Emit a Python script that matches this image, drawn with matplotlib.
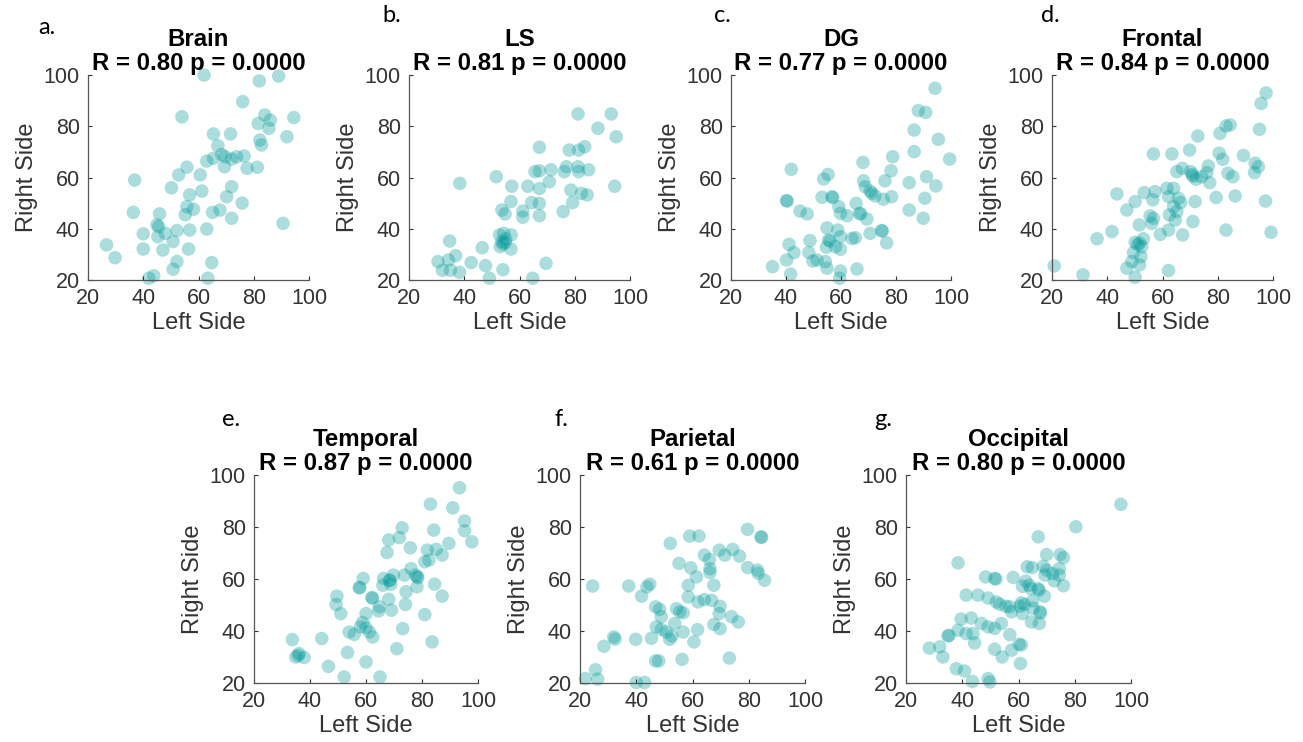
import matplotlib.pyplot as plt
import numpy as np

# left / right side values for each region
brain_left = [62, 82, 89, 76, 54, 84, 94.5, 81.6, 86, 85.5, 92, 65.4, 71.6, 82.2, 82.8, 67, 68.4, 63, 65.4, 69.6,
              72, 73.8, 76.5, 69.4, 77.6, 81.3, 55.8, 52.8, 60.6, 36.9, 50.2, 72, 56.8, 61.2, 70.2, 55.8, 58.2, 75.8, 36.4, 45.9,
              65.1, 67.8, 72, 55.2, 45, 45.6, 52.2, 56.8, 63, 90.6, 48, 40, 45.3, 50.8, 26.7, 40, 47.1, 56.4, 29.8, 52.2,
              64.8, 50.8, 42, 43.8, 63.4]
brain_right = [100, 97.7, 99.6, 89.6, 83.7, 84.4, 83.4, 81.1, 82.4, 79.2, 75.9, 77, 77, 74.6, 72.7, 72.4, 69, 66.4, 67.5, 68.1,
               67.2, 68.1, 68.4, 64.2, 63.6, 64, 64, 61, 61, 59, 56, 56.4, 53.2, 54.7, 52.5, 48.6, 47.6, 50, 46.4, 45.8,
               46.4, 47.3, 44.1, 45.5, 41.5, 40.8, 39.3, 39.5, 39.9, 42.1, 38.2, 38, 36.9, 35, 33.7, 32.1, 31.7, 32.1, 28.7, 27.2,
               26.8, 24.2, 20.7, 21.6, 20.7]

ls_left = [81.2, 93.2, 88.4, 95, 67.2, 78, 81.4, 83.6, 65.6, 67.2, 71.4, 76.2, 77, 81.2, 81.4, 85, 51.6, 38.4, 57.2, 63,
           67.2, 70.8, 94.5, 78.6, 82.4, 84.5, 64.4, 67.2, 56.9, 79.2, 75.8, 53.6, 54.8, 61.2, 61.2, 67.2, 54.3, 57, 52.8, 53.6,
           54.8, 53, 56.9, 34.7, 46.5, 36.9, 30.5, 34.3, 42.5, 47.7, 69.6, 32.1, 35, 38.3, 54, 49.1, 64.8, 54, 55]
ls_right = [84.8, 84.8, 79.2, 75.9, 71.8, 70.7, 70.7, 72, 62.3, 62.6, 63, 62.3, 64.2, 64.2, 62.3, 63, 60.3, 57.7, 56.6, 56.6,
            55.7, 58.3, 56.6, 55.1, 53.8, 53.2, 50.2, 49.9, 50.6, 50.2, 46.7, 47.3, 45.8, 46.9, 44.5, 45.1, 38.2, 37.6, 37.6, 35,
            34.6, 33, 32.1, 35.2, 32.6, 29.5, 27.2, 27.8, 26.8, 25.6, 26.5, 23.8, 23.8, 23, 24, 20.7, 20.7, 34, 36]

dg_left = [94.2, 88.1, 90.8, 86.6, 95.4, 99.5, 86.6, 41.9, 68, 78.8, 53.7, 55.3, 68.2, 78.2, 76, 84.8, 91.1, 94.5, 40.2, 40.4,
           45.1, 47.7, 53.1, 56.7, 57, 59.2, 59.8, 62.2, 65.5, 66.7, 67.2, 69.4, 68.8, 70.6, 71.2, 72.4, 75.4, 78.4, 84.8, 90.5,
           89.9, 54.9, 58.8, 55.5, 56, 59.8, 48.7, 41.1, 42.9, 54.7, 58, 59.8, 64, 65.2, 70.6, 74.8, 75, 76.6, 48.3, 49.8,
           51.3, 40.2, 35.1, 54.3, 54.9, 59.8, 65.8, 41.7, 59.5]
dg_right = [94.8, 86.1, 85.4, 78.5, 74.9, 67.2, 70.1, 63.2, 65.9, 68.1, 59.4, 61.2, 58.7, 62.6, 58.7, 58, 60.3, 56.7, 51, 50.8,
            46.9, 45.8, 52.3, 52.5, 52.2, 48.6, 46, 45.1, 49.9, 46, 45.8, 43.8, 56.4, 54.7, 53.8, 52.8, 51.5, 52.5, 47.3, 51.9,
            44.1, 40.3, 39.5, 35.6, 35.2, 36.9, 35.4, 33.9, 30.7, 32.8, 33, 32, 36.2, 36.5, 38.2, 39.3, 39.1, 34.5, 30.7, 27.4,
            27.8, 27.8, 25.2, 27.2, 24.6, 23.5, 24.3, 22.3, 20.7]

frontal_left = [97.5, 95.7, 95.1, 80.8, 83, 84.5, 72.8, 56.7, 63.4, 69.8, 80.5, 81.8, 89.3, 93.5, 94.7, 93.3, 83.7, 85.5, 76.6, 76,
                67.2, 65.2, 70.2, 70.8, 71, 74.2, 72.2, 77.1, 43.5, 50.1, 53.4, 57.3, 56.5, 61.6, 64, 62.2, 65.8, 66.6, 64, 65.2,
                62.5, 64.6, 71.8, 79.4, 86.3, 97.3, 47.1, 55.5, 56.7, 56.1, 51.6, 71, 41.7, 36.3, 62.2, 59.2, 67.3, 83, 99.3, 53.1,
                50.1, 51.7, 51, 52.5, 49.5, 52.2, 48.9, 51.7, 47.1, 62.2, 20.8, 31.2, 50.1]
frontal_right = [93, 88.9, 78.8, 77.2, 80.1, 80.5, 76.2, 69.2, 69.2, 70.7, 69.5, 67.1, 68.6, 65.6, 64.2, 61.9, 61.7, 60.3, 64.5, 61.9,
                 63.6, 62.3, 62.3, 61.2, 60.5, 60.3, 59.3, 58, 53.6, 50.6, 54.1, 54.5, 51.3, 55.8, 55.8, 52.5, 51.9, 50.2, 48.6, 46.7,
                 45.4, 43.4, 50.6, 52.2, 52.8, 50.8, 47.3, 45, 44.1, 42.1, 41.5, 42.8, 38.9, 36.1, 39.5, 37.8, 37.6, 39.5, 38.6, 36.1,
                 34.7, 34.4, 33.8, 33, 30.7, 29.1, 27.2, 25.9, 24.6, 23.7, 25.5, 22, 21.1]

temporal_left = [93.4, 83, 91, 95.2, 95.2, 97.8, 72.9, 84.2, 68.1, 71.9, 75.8, 89.6, 67.5, 81.9, 85.1, 87.2, 81, 82.5, 76.1, 73.7,
                 77.7, 78.3, 78.2, 84.5, 59, 57.6, 66.3, 68.4, 68.9, 69.8, 66, 49.6, 49.3, 51, 62.1, 64.8, 64.5, 68.1, 69.1, 74.1,
                 74.3, 87.2, 81, 60, 58.8, 58, 60, 61.2, 62.4, 54, 55.8, 44.2, 33.7, 73.1, 83.6, 34.9, 36.1, 37.9, 71, 53.4,
                 60, 46.6, 52.2, 65, 57.8, 62.3, 35.8, 68.5, 78.5]
temporal_right = [95.1, 88.8, 87.4, 82.3, 78.6, 74.3, 79.7, 78.8, 75, 75.9, 72, 73.7, 70.2, 71.1, 71.4, 69.2, 66.6, 67.3, 64, 61.5,
                  61.5, 60.9, 57, 58, 60.2, 56.6, 60.2, 59.5, 58, 61.5, 57.6, 53.4, 50.2, 46.7, 52.9, 49.3, 47.7, 52.2, 48, 50.2,
                  55.1, 53.4, 46.3, 46.7, 43.3, 41.6, 41.3, 39.6, 37.7, 39.6, 38.7, 37.1, 36.7, 40.9, 35.8, 30, 31.3, 29.8, 33.2, 31.7,
                  28.1, 26.4, 22.3, 22.3, 56.8, 52.6, 30.6, 59.5, 60.5]

parietal_left = [79.6, 84.3, 84.6, 59, 62.3, 52.1, 69.5, 74.3, 71.5, 76.7, 64.2, 66, 55.2, 59.4, 66.2, 66.2, 79.6, 83.1, 83.4, 85.6,
                 24.5, 37.3, 43.8, 44.8, 41.9, 58.5, 61.4, 67.6, 58.5, 62, 64.2, 66.8, 69.8, 69.5, 46.9, 48.3, 48.9, 54.3, 55.5, 56.7,
                 73.9, 76.3, 67.6, 69.8, 47.1, 48.9, 50.7, 53.7, 52.7, 56.7, 61.8, 32, 32.5, 28.5, 39.8, 45.4, 51.9, 60.5, 46.9, 48,
                 56.3, 73.1, 25.5, 21.9, 26.3, 40, 43]
parietal_right = [79.1, 76.2, 76, 76.5, 76.5, 73.7, 71.1, 71.4, 69.2, 68.8, 69.2, 67.5, 66, 64.3, 64, 62.5, 64.4, 63.4, 62.2, 59.5,
                  57.3, 57.3, 57, 58, 53.4, 57.6, 60.8, 57.6, 53.1, 51.2, 52.1, 51.8, 49.5, 46.7, 49.3, 48.3, 45.5, 48.6, 47.4, 47,
                  45.5, 43.5, 42.5, 40.9, 41.6, 40.6, 39.6, 42.9, 38.1, 39.6, 40.5, 37.7, 36.9, 34.1, 36.8, 37.2, 36.8, 35.8, 28.5, 28.5,
                  29.1, 29.6, 25.1, 21.7, 21.5, 20.2, 20.2]

occipital_left = [96.4, 80.4, 67, 38.5, 70, 74.8, 76, 63.1, 64.9, 68.8, 70, 69.4, 72.1, 74.5, 74.5, 48.3, 51.5, 52, 58.1, 62.6,
                  61.4, 63.8, 64.4, 67, 67.3, 69.2, 76, 72.7, 41.4, 45.6, 49.2, 52.1, 53.3, 55.5, 56.9, 57.5, 60.5, 61, 62.1, 65,
                  65.2, 67.6, 67.9, 61.4, 64.6, 67.4, 39.6, 43.2, 46.8, 49.2, 51.5, 53.9, 34.9, 38.5, 41.4, 43.8, 44.4, 56.9, 28.3, 32,
                  33.1, 51.5, 54.2, 57.5, 60.2, 61, 60.7, 37.9, 40.8, 43.6, 49.2, 49.8, 35.3]
occipital_right = [88.7, 80.1, 76.2, 66.2, 69.4, 69.4, 68.2, 64.7, 64.4, 64.9, 63.4, 61.5, 62.1, 64, 61.5, 60.8, 60.2, 60, 60.6, 59.2,
                   57.2, 57.6, 56.3, 56.3, 55.7, 53.4, 57.4, 59.3, 53.8, 53.8, 52.7, 51.2, 50.3, 49.5, 49.3, 47.4, 49.5, 50.8, 50.2, 51.6,
                   48.8, 47.4, 46.9, 46.7, 43.5, 42.9, 44.6, 45, 42.9, 41.6, 41, 42.9, 38.1, 40.3, 39, 39, 35.4, 38.6, 33.4, 33.9,
                   30, 33, 30, 32.6, 34.9, 34.6, 27.5, 25.5, 24.6, 20.6, 21.7, 20.4, 38.3]

regions = ['Brain', 'LS', 'DG', 'Frontal', 'Temporal', 'Parietal', 'Occipital']
r_values = [0.80, 0.81, 0.77, 0.84, 0.87, 0.61, 0.80]
p_values = [0.0, 0.0, 0.0, 0.0, 0.0, 0.0, 0.0]
letters = ['a.', 'b.', 'c.', 'd.', 'e.', 'f.', 'g.']
lefts = [brain_left, ls_left, dg_left, frontal_left, temporal_left, parietal_left, occipital_left]
rights = [brain_right, ls_right, dg_right, frontal_right, temporal_right, parietal_right, occipital_right]
ticks = [20, 40, 60, 80, 100]

plt.rcParams['font.family'] = ['Liberation Sans', 'DejaVu Sans']
W, H = 1303, 742
fig = plt.figure(figsize=(W / 100, H / 100), dpi=100)

# axes boxes in pixels: left, top, width, height
boxes = [(88, 75, 221, 205), (409, 75, 221, 205), (731, 75, 220, 205), (1052, 75, 221, 205),
         (254, 475, 224, 208), (580, 475, 225, 208), (906, 475, 225, 208)]
# panel letters (pixel centres)
letter_pos = [(47, 27), (392, 16), (722, 16), (1050, 16), (231, 419), (561, 419), (883, 419)]

gray = '#333333'
for i in range(7):
    x0, y0, w, h = boxes[i]
    ax = fig.add_axes([x0 / W, 1 - (y0 + h) / H, w / W, h / H])
    ax.scatter(lefts[i], rights[i], s=95, color='#009999', alpha=0.33,
               edgecolors='none', clip_on=False)
    ax.set_xlim(20, 100)
    ax.set_ylim(20, 100)
    ax.set_xticks(ticks)
    ax.set_yticks(ticks)
    ax.tick_params(direction='in', length=3, width=0.8, labelsize=15.5,
                   colors=gray, pad=6)
    for side in ['top', 'right']:
        ax.spines[side].set_visible(False)
    for side in ['left', 'bottom']:
        ax.spines[side].set_color('#555555')
        ax.spines[side].set_linewidth(0.9)
    ax.set_xlabel('Left Side', fontsize=17, color=gray, labelpad=2)
    ax.set_ylabel('Right Side', fontsize=17, color=gray, labelpad=4)
    ax.set_title('%s\nR = %.2f p = %.4f' % (regions[i], r_values[i], p_values[i]),
                 fontsize=17.3, fontweight='bold', linespacing=1.05, pad=2)
    lx, ly = letter_pos[i]
    fig.text(lx / W, 1 - ly / H, letters[i], fontsize=17, family=['Lato', 'DejaVu Sans'],
             ha='center', va='center')

plt.savefig('out.png', dpi=100)
plt.close()
